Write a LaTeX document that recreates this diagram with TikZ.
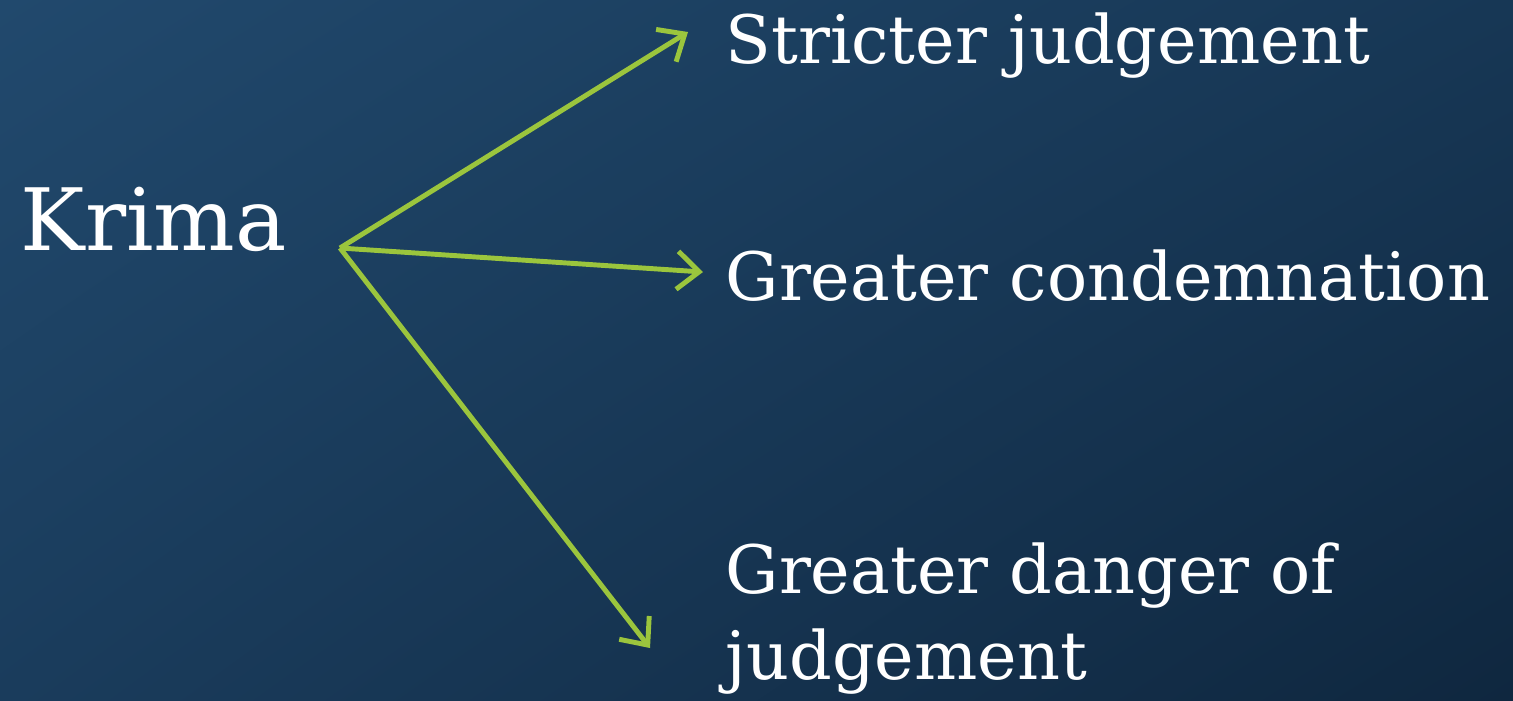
\documentclass[tikz,border=0pt]{standalone}
\usepackage{fontspec}
\setmainfont{DejaVu Serif}
\usetikzlibrary{arrows.meta,shadings}
\definecolor{slidetop}{HTML}{21496D}
\definecolor{slidetopr}{HTML}{173755}
\definecolor{slidebotl}{HTML}{1A3C5C}
\definecolor{slidebot}{HTML}{0F273F}
\definecolor{limearrow}{HTML}{9BC53D}
\begin{document}
\begin{tikzpicture}[word/.style={text=white, inner sep=0pt, anchor=base west, font=\fontsize{19}{24.5}\selectfont},
  myarrow/.style={draw=limearrow, line width=1.4pt, -{Straight Barb[length=2.2mm,width=3.8mm]}}]

\useasboundingbox (0,0) rectangle (15.13,7);
\shade[upper left=slidetop, upper right=slidetopr, lower left=slidebotl, lower right=slidebot]
  (0,0) rectangle (15.13,7);

\node[word, font=\fontsize{24.5}{30}\selectfont] (krima) at (0.2,4.5) {Krima};
\node[word] (strict) at (7.25,6.37) {Stricter judgement};
\node[word] (cond) at (7.25,4.0) {Greater condemnation};
\node[word, align=left, anchor=north west] (danger) at (7.25,1.58) {Greater danger of\\judgement};

\coordinate (hub) at (3.4,4.52);
\coordinate (tipA) at (6.88,6.68);
\coordinate (tipB) at (7.03,4.28);
\coordinate (tipC) at (6.5,0.52);
\draw[myarrow] (hub) -- (tipA);
\draw[myarrow] (hub) -- (tipB);
\draw[myarrow] (hub) -- (tipC);

\end{tikzpicture}
\end{document}
